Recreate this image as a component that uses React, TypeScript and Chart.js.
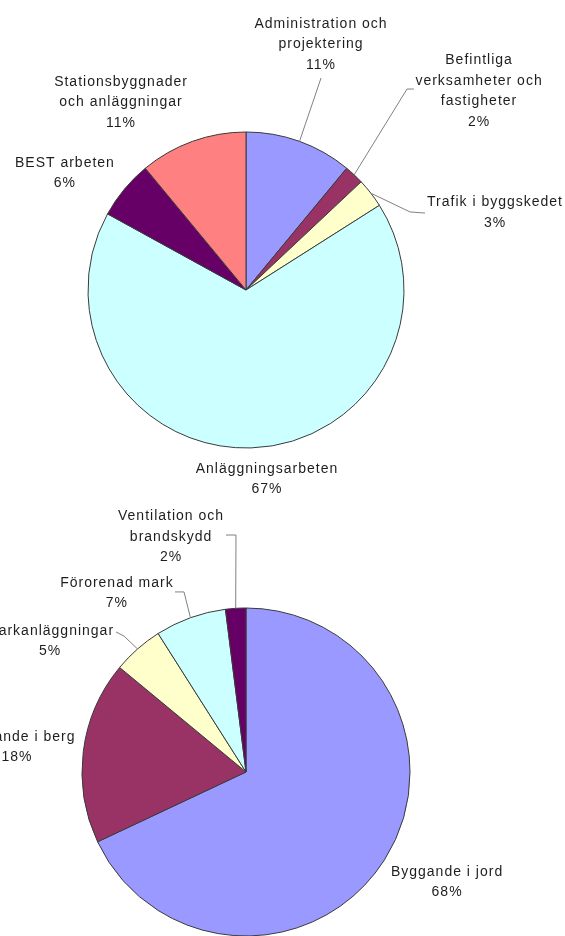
import React, { useEffect, useRef } from "react";
import { Chart, registerables } from "chart.js";

Chart.register(...registerables);

// ---------- Data ----------
const topCategories = [
  "Administration och projektering",
  "Befintliga verksamheter och fastigheter",
  "Trafik i byggskedet",
  "Anläggningsarbeten",
  "BEST arbeten",
  "Stationsbyggnader och anläggningar",
];
const topValues = [11, 2, 3, 67, 6, 11];
const topLabelLines = [
  ["Administration och", "projektering"],
  ["Befintliga", "verksamheter och", "fastigheter"],
  ["Trafik i byggskedet"],
  ["Anläggningsarbeten"],
  ["BEST arbeten"],
  ["Stationsbyggnader", "och anläggningar"],
];

const bottomCategories = [
  "Byggande i jord",
  "Byggande i berg",
  "Markanläggningar",
  "Förorenad mark",
  "Ventilation och brandskydd",
];
const bottomValues = [68, 18, 5, 7, 2];
const bottomLabelLines = [
  ["Byggande i jord"],
  ["Byggande i berg"],
  ["Markanläggningar"],
  ["Förorenad mark"],
  ["Ventilation och", "brandskydd"],
];

// ---------- Styles / layout ----------
const topColors = ["#9999FF", "#993366", "#FFFFCC", "#CCFFFF", "#660066", "#FF8080"];
const bottomColors = ["#9999FF", "#993366", "#FFFFCC", "#CCFFFF", "#660066"];

// label block centres, relative to pie centre in units of radius
const topLabelPos: [number, number][] = [
  [0.475, -1.554],
  [1.475, -1.259],
  [1.576, -0.491],
  [0.133, 1.196],
  [-1.146, -0.741],
  [-0.791, -1.187],
];
const topLeaders: ([number, number][] | null)[] = [
  [[0.475, -1.342]],
  [[1.019, -1.272], [1.063, -1.272]],
  [[1.038, -0.494], [1.133, -0.487]],
  null,
  null,
  null,
];

const bottomLabelPos: [number, number][] = [
  [1.226, 0.671],
  [-1.396, -0.152],
  [-1.195, -0.799],
  [-0.787, -1.091],
  [-0.457, -1.433],
];
const bottomLeaders: ([number, number][] | null)[] = [
  null,
  null,
  [[-0.744, -0.829], [-0.793, -0.854]],
  [[-0.378, -1.098], [-0.433, -1.098]],
  [[-0.061, -1.445], [-0.122, -1.445]],
];

const FONT = '14px "Liberation Sans", Arial, sans-serif';
const LINE_H = 20.5;

function makeLabelPlugin(
  values: number[],
  lines: string[][],
  pos: [number, number][],
  leaders: ([number, number][] | null)[]
) {
  return {
    id: "pieLabels",
    afterDraw(chart: any) {
      const ctx = chart.ctx as CanvasRenderingContext2D;
      const meta = chart.getDatasetMeta(0);
      const total = values.reduce((a, b) => a + b, 0);
      ctx.save();
      meta.data.forEach((arc: any, i: number) => {
        const { x, y, startAngle, endAngle, outerRadius } = arc.getProps(
          ["x", "y", "startAngle", "endAngle", "outerRadius"],
          true
        );
        const r = outerRadius;
        const mid = (startAngle + endAngle) / 2;
        const ld = leaders[i];
        if (ld) {
          ctx.beginPath();
          ctx.moveTo(x + Math.cos(mid) * r, y + Math.sin(mid) * r);
          ld.forEach((p) => ctx.lineTo(x + p[0] * r, y + p[1] * r));
          ctx.strokeStyle = "#808080";
          ctx.lineWidth = 1;
          ctx.stroke();
        }
        const pct = Math.round((values[i] / total) * 100) + "%";
        const all = [...lines[i], pct];
        const cx = x + pos[i][0] * r;
        const cy = y + pos[i][1] * r;
        ctx.font = FONT;
        (ctx as any).letterSpacing = "1px";
        ctx.fillStyle = "#1e1e1e";
        ctx.textAlign = "center";
        ctx.textBaseline = "middle";
        const n = all.length;
        all.forEach((t, k) => {
          ctx.fillText(t, cx, cy + (k - (n - 1) / 2) * LINE_H);
        });
      });
      ctx.restore();
    },
  };
}

function PieCanvas(props: {
  categories: string[];
  values: number[];
  colors: string[];
  lines: string[][];
  pos: [number, number][];
  leaders: ([number, number][] | null)[];
  radius: number;
  padding: { left: number; right: number; top: number; bottom: number };
  top: number;
  height: number;
}) {
  const ref = useRef<HTMLCanvasElement>(null);
  useEffect(() => {
    if (!ref.current) return;
    const chart = new Chart(ref.current, {
      type: "pie",
      data: {
        labels: props.categories,
        datasets: [
          {
            data: props.values,
            backgroundColor: props.colors,
            borderColor: "#3a3a3a",
            borderWidth: 1,
          },
        ],
      },
      options: {
        responsive: false,
        animation: false,
        radius: props.radius,
        layout: { padding: props.padding },
        plugins: {
          legend: { display: false },
          tooltip: { enabled: false },
        },
      } as any,
      plugins: [makeLabelPlugin(props.values, props.lines, props.pos, props.leaders)],
    });
    return () => chart.destroy();
  }, []);
  return (
    <canvas
      ref={ref}
      width={565}
      height={props.height}
      style={{ position: "absolute", left: 0, top: props.top, width: 565, height: props.height }}
    />
  );
}

export default function App() {
  return (
    <div
      style={{
        position: "absolute",
        left: 0,
        top: 0,
        width: 565,
        height: 936,
        background: "#ffffff",
        overflow: "hidden",
      }}
    >
      <PieCanvas
        categories={topCategories}
        values={topValues}
        colors={topColors}
        lines={topLabelLines}
        pos={topLabelPos}
        leaders={topLeaders}
        radius={158}
        padding={{ left: 0, right: 73, top: 80, bottom: 0 }}
        top={0}
        height={500}
      />
      <PieCanvas
        categories={bottomCategories}
        values={bottomValues}
        colors={bottomColors}
        lines={bottomLabelLines}
        pos={bottomLabelPos}
        leaders={bottomLeaders}
        radius={164}
        padding={{ left: 0, right: 73, top: 108, bottom: 0 }}
        top={500}
        height={436}
      />
    </div>
  );
}
